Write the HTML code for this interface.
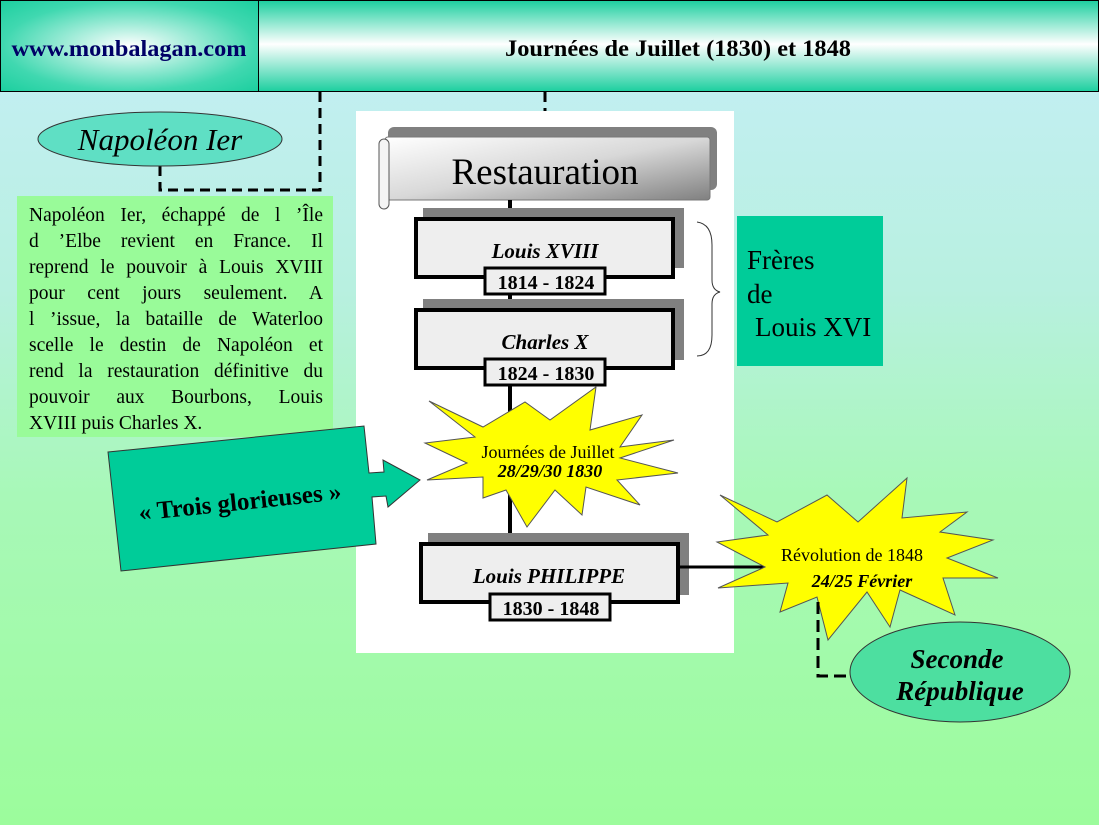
<!DOCTYPE html>
<html><head><meta charset="utf-8"><style>
html,body{margin:0;padding:0;width:1099px;height:825px;overflow:hidden;position:relative}
svg{display:block}
text{font-family:"Liberation Serif",serif}
.tb{position:absolute;left:29px;top:203px;width:294px;font-family:"Liberation Serif",serif;font-size:19.5px;line-height:26px;color:#000}
.tb div{text-align:justify;text-align-last:justify;white-space:nowrap;height:26px}
.tb div.l{text-align-last:left}
</style></head><body>
<svg width="1099" height="825" viewBox="0 0 1099 825" xmlns="http://www.w3.org/2000/svg">
<defs>
<linearGradient id="bg" x1="0" y1="0" x2="0" y2="1">
<stop offset="0" stop-color="#c6eef8"/><stop offset="0.35" stop-color="#b8f0e0"/><stop offset="0.6" stop-color="#a8f8b8"/><stop offset="1" stop-color="#9cfc9c"/></linearGradient>
<linearGradient id="hd" x1="0" y1="0" x2="0" y2="1">
<stop offset="0" stop-color="#1ccf9f"/><stop offset="0.48" stop-color="#ffffff"/><stop offset="1" stop-color="#1ccf9f"/></linearGradient>
<radialGradient id="hl" cx="0.5" cy="0.5" r="0.7">
<stop offset="0" stop-color="#ffffff"/><stop offset="0.7" stop-color="#40d8b0"/><stop offset="1" stop-color="#1ccf9f"/></radialGradient>
<linearGradient id="sc" x1="0" y1="0" x2="1" y2="1">
<stop offset="0" stop-color="#ffffff"/><stop offset="0.5" stop-color="#d8d8d8"/><stop offset="1" stop-color="#808080"/></linearGradient>
</defs>
<rect width="1099" height="825" fill="url(#bg)"/>
<rect x="0.5" y="0.5" width="258" height="91" fill="url(#hl)" stroke="#000"/>
<rect x="258.5" y="0.5" width="840" height="91" fill="url(#hd)" stroke="#000"/>
<text x="129" y="56" text-anchor="middle" font-size="23" font-weight="bold" fill="#000066" textLength="235" lengthAdjust="spacingAndGlyphs">www.monbalagan.com</text>
<text x="678" y="56" text-anchor="middle" font-size="23" font-weight="bold" fill="#000" textLength="346" lengthAdjust="spacingAndGlyphs">Journées de Juillet (1830) et 1848</text>
<path d="M320 92 V190 H160 V165" fill="none" stroke="#000" stroke-width="3" stroke-dasharray="10,6"/>
<path d="M545 92 V112" fill="none" stroke="#000" stroke-width="3" stroke-dasharray="10,6"/>
<ellipse cx="160" cy="139" rx="122" ry="27" fill="#5fdfc4" stroke="#333"/>
<text x="160" y="150" text-anchor="middle" font-size="31" font-style="italic">Napoléon Ier</text>
<rect x="17" y="196" width="316" height="241" fill="#99fb99"/>
<rect x="356" y="111" width="378" height="542" fill="#fff"/>
<rect x="388" y="127" width="329" height="63" rx="6" fill="#808080"/>
<rect x="385" y="137" width="325" height="63" rx="3" fill="url(#sc)" stroke="#777"/>
<rect x="379" y="139" width="10" height="70" rx="5" fill="#f4f4f4" stroke="#555"/>
<text x="545" y="184" text-anchor="middle" font-size="37">Restauration</text>
<path d="M510 200 V218 M510 294 V309 M510 385 V545" stroke="#000" stroke-width="4"/>
<rect x="423" y="208" width="261" height="60" fill="#808080"/>
<rect x="416" y="219" width="257" height="58" fill="#eee" stroke="#000" stroke-width="4"/>
<text x="545" y="258" text-anchor="middle" font-size="21" font-weight="bold" font-style="italic">Louis XVIII</text>
<rect x="485" y="268" width="120" height="26" fill="#eee" stroke="#000" stroke-width="3"/>
<text x="546" y="289" text-anchor="middle" font-size="20" font-weight="bold">1814 - 1824</text>
<rect x="423" y="299" width="261" height="61" fill="#808080"/>
<rect x="416" y="310" width="257" height="58" fill="#eee" stroke="#000" stroke-width="4"/>
<text x="545" y="349" text-anchor="middle" font-size="21" font-weight="bold" font-style="italic">Charles X</text>
<rect x="485" y="359" width="120" height="26" fill="#eee" stroke="#000" stroke-width="3"/>
<text x="546" y="380" text-anchor="middle" font-size="20" font-weight="bold">1824 - 1830</text>
<path d="M697 222 Q712 224 712 245 V280 Q712 290 720 292 Q712 294 712 304 V335 Q712 356 697 356" fill="none" stroke="#333" stroke-width="1"/>
<rect x="737" y="216" width="146" height="150" fill="#00cc99"/>
<g font-size="27"><text x="747" y="269">Frères</text><text x="747" y="303">de</text><text x="755" y="336">Louis XVI</text></g>
<polygon points="429,401 483,427 525,402 550,420 596,387 590,430 642,415 620,447 674,440 620,458 678,473 617,480 640,505 586,487 582,515 555,490 527,527 506,490 483,498 483,477 427,480 467,463 425,443 475,437" fill="#ffff00" stroke="#555" stroke-width="1"/>
<text x="548" y="458" text-anchor="middle" font-size="18">Journées de Juillet</text>
<text x="550" y="477" text-anchor="middle" font-size="18" font-weight="bold" font-style="italic">28/29/30 1830</text>
<polygon points="108,452 364,426 369,473 384,472 383,460 420,480 388,507 386,496 372,497 376,544 121,571" fill="#00cc99" stroke="#333"/>
<text x="240" y="510" text-anchor="middle" font-size="25" font-weight="bold" transform="rotate(-6 240 503)">« Trois glorieuses »</text>
<rect x="428" y="533" width="261" height="62" fill="#808080"/>
<rect x="421" y="544" width="257" height="58" fill="#eee" stroke="#000" stroke-width="4"/>
<text x="549" y="583" text-anchor="middle" font-size="21" font-weight="bold" font-style="italic">Louis PHILIPPE</text>
<rect x="490" y="594" width="120" height="26" fill="#eee" stroke="#000" stroke-width="3"/>
<text x="551" y="615" text-anchor="middle" font-size="20" font-weight="bold">1830 - 1848</text>
<path d="M679 567 H765" stroke="#000" stroke-width="3"/>
<polygon points="720,495 777,522 827,495 858,522 907,478 902,518 967,512 940,532 993,540 947,558 998,578 943,578 955,615 900,590 890,627 867,592 828,640 817,597 780,612 788,583 718,588 765,567 717,542 768,535" fill="#ffff00" stroke="#555" stroke-width="1"/>
<text x="852" y="561" text-anchor="middle" font-size="18">Révolution de 1848</text>
<text x="862" y="587" text-anchor="middle" font-size="18" font-weight="bold" font-style="italic">24/25 Février</text>
<path d="M818 602 V676 H852" fill="none" stroke="#000" stroke-width="3" stroke-dasharray="12,6"/>
<ellipse cx="960" cy="672" rx="110" ry="50" fill="#4ddfa0" stroke="#333"/>
<text x="957" y="668" text-anchor="middle" font-size="27" font-weight="bold" font-style="italic">Seconde</text>
<text x="960" y="700" text-anchor="middle" font-size="27" font-weight="bold" font-style="italic">République</text>
</svg>
<div class="tb">
<div>Napoléon Ier, échappé de l ’Île</div>
<div>d ’Elbe revient en France. Il</div>
<div>reprend le pouvoir à Louis XVIII</div>
<div>pour cent jours seulement. A</div>
<div>l ’issue, la bataille de Waterloo</div>
<div>scelle le destin de Napoléon et</div>
<div>rend la restauration définitive du</div>
<div>pouvoir aux Bourbons, Louis</div>
<div class="l">XVIII puis Charles X.</div>
</div>
</body></html>
